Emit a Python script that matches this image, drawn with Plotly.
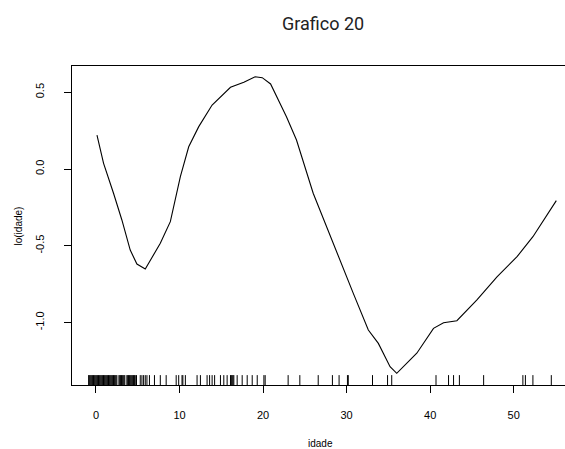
import plotly.graph_objects as go

# smooth term curve
curve_x = [0.12, 0.91, 2.1, 3.1, 4.1, 4.9, 5.9, 6.5, 7.7, 8.9, 9.5, 10.1, 11.1, 12.3, 13.9,
           16.1, 17.7, 19.05, 19.9, 20.9, 22.8, 24.0, 26.0, 27.6, 28.8, 30.8, 32.6, 33.8,
           35.2, 36.0, 38.4, 40.4, 41.6, 43.2, 45.6, 48.0, 50.4, 52.3, 55.1]
curve_y = [0.221, 0.037, -0.158, -0.332, -0.528, -0.619, -0.651, -0.593, -0.484, -0.343,
           -0.202, -0.050, 0.145, 0.276, 0.417, 0.532, 0.565, 0.601, 0.595, 0.554, 0.341,
           0.189, -0.158, -0.376, -0.549, -0.81, -1.049, -1.136, -1.288, -1.331, -1.2,
           -1.038, -1.001, -0.988, -0.853, -0.702, -0.571, -0.441, -0.206]

# rug (jittered observations)
rug_x = [-0.88, -0.8, -0.7, -0.6, -0.5, -0.4, -0.3, -0.2, -0.1, 0.0, 0.1, 0.2, 0.3, 0.4,
         0.5, 0.6, 0.7, 0.8, 0.9, 1.0, 1.1, 1.2, 1.3, 1.4, 1.5, 1.6, 1.7, 1.8, 1.9, 2.0,
         2.1, 2.2, 2.3, 2.4, 2.5,
         2.75, 2.85, 2.95, 3.05, 3.15, 3.25, 3.35, 3.45,
         3.7, 3.8, 3.9, 4.0, 4.1, 4.2, 4.3, 4.4, 4.5, 4.6, 4.7, 4.85,
         5.3, 5.5, 5.7, 5.9, 6.1, 6.4, 7.0, 7.7, 8.4,
         9.6, 9.9, 10.3, 10.4, 10.7, 12.1, 12.5, 13.3, 13.6, 13.9, 14.2,
         14.9, 15.3, 15.7, 16.1, 16.2, 16.3, 16.4, 16.5, 16.9, 17.5, 18.1, 18.7, 19.3,
         20.1, 20.25, 23.0, 24.4, 26.6, 28.3, 29.1, 30.1, 30.2,
         33.1, 34.9, 35.4, 40.7, 42.2, 42.8, 43.5, 46.4, 51.1, 51.4, 52.3, 54.5]

x_ticks = [0, 10, 20, 30, 40, 50]
y_ticks = [-1.0, -0.5, 0.0, 0.5]
y_ticktext = ["-1.0", "-0.5", "0.0", "0.5"]

W, H = 565, 449
ML, MR, MT, MB = 72, 0, 66, 64
pw, ph = W - ML - MR, H - MT - MB

fig = go.Figure()
fig.add_trace(go.Scatter(x=curve_x, y=curve_y, mode="lines",
                         line=dict(color="black", width=1.1), showlegend=False,
                         hoverinfo="skip"))

rx, ry = [], []
for v in rug_x:
    rx += [v, v, None]
    ry += [0, 0.031, None]
fig.add_trace(go.Scatter(x=rx, y=ry, mode="lines", yaxis="y2",
                         line=dict(color="black", width=1), showlegend=False,
                         hoverinfo="skip"))

font = "Liberation Sans, Arial, sans-serif"
fig.update_layout(
    template="none",
    width=W, height=H,
    margin=dict(l=ML, r=MR, t=MT, b=MB, pad=0),
    paper_bgcolor="white", plot_bgcolor="white",
    font=dict(family=font, size=11, color="black"),
    xaxis=dict(range=[-2.87, 56.14], tickvals=x_ticks, ticks="outside", ticklen=7,
               tickwidth=1, tickcolor="black", showline=True, linecolor="black",
               linewidth=1, mirror=True, showgrid=False, zeroline=False,
               ticklabelstandoff=13, tickfont=dict(size=11, color="black")),
    yaxis=dict(range=[-1.407, 0.671], tickvals=y_ticks, ticktext=y_ticktext,
               ticks="outside", ticklen=7, tickwidth=1, tickcolor="black",
               showline=True, linecolor="black", linewidth=1, showgrid=False,
               zeroline=False, tickangle=-90, ticklabelstandoff=16,
               tickfont=dict(size=11, color="black")),
    yaxis2=dict(range=[0, 1], overlaying="y", visible=False, fixedrange=True),
    annotations=[
        dict(text="Grafico 20", xref="paper", yref="paper",
             x=(322.5 - ML) / pw, y=(H - MB - 23) / ph, showarrow=False,
             xanchor="center", yanchor="middle",
             font=dict(family="Roboto, sans-serif", size=18, color="#222")),
        dict(text="idade", xref="paper", yref="paper",
             x=(320 - ML) / pw, y=(H - MB - 443) / ph, showarrow=False,
             xanchor="center", yanchor="middle", font=dict(size=10, color="black")),
        dict(text="lo(idade)", xref="paper", yref="paper",
             x=(18 - ML) / pw, y=(H - MB - 226.5) / ph, showarrow=False,
             xanchor="center", yanchor="middle", textangle=-90,
             font=dict(size=10, color="black")),
    ],
)

fig.write_html("out.html")
